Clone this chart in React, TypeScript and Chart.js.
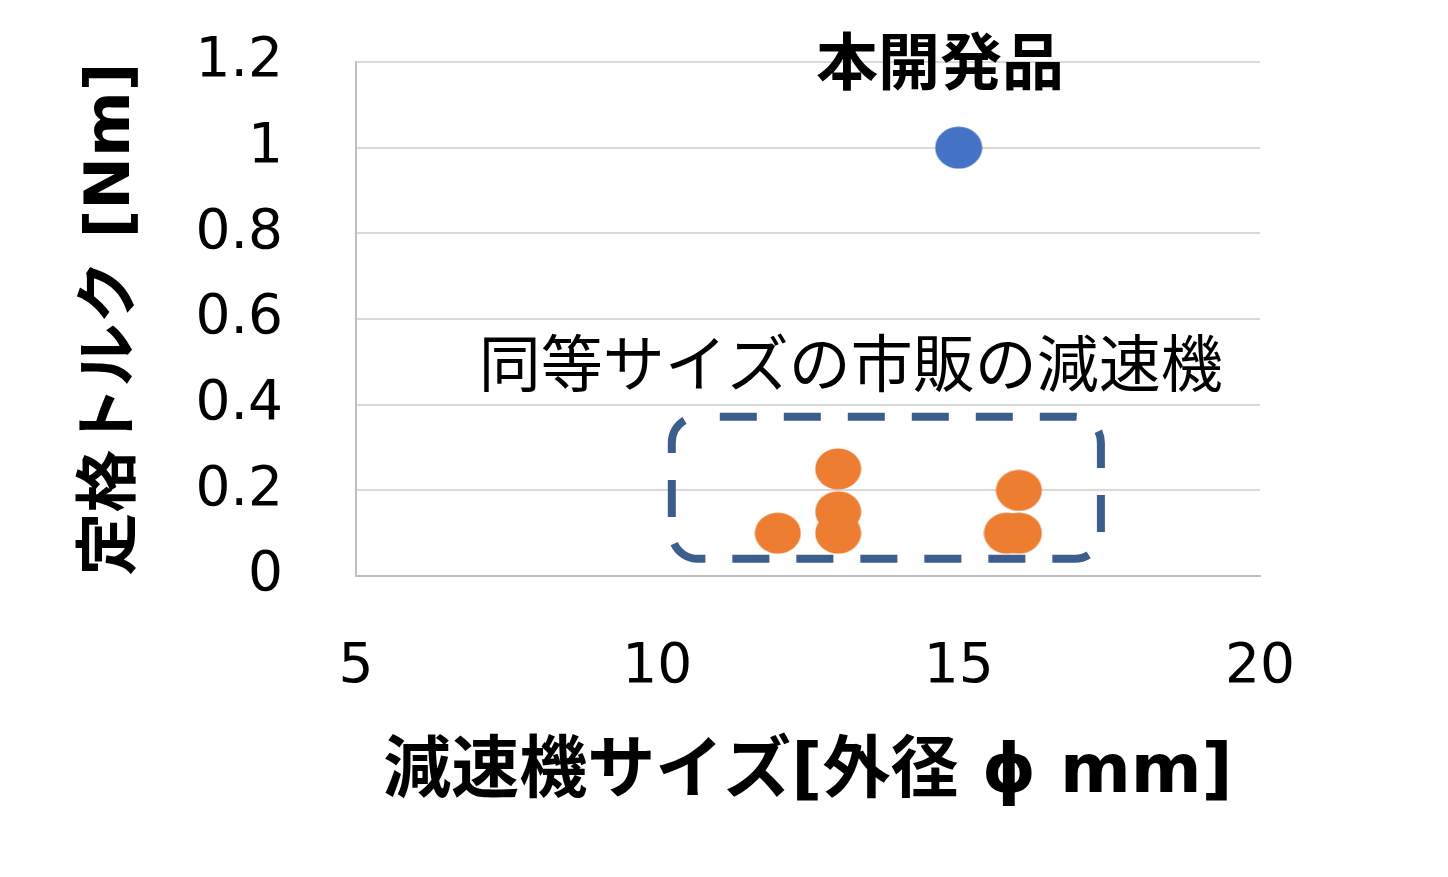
import { useEffect, useRef } from "react";
import { Chart, registerables } from "chart.js";

Chart.register(...registerables);

// Reducer outer diameter [mm] vs. rated torque [Nm]
const developedSize = [15];
const developedTorque = [1.0];
const marketSize = [12, 13, 13, 13, 16, 15.8, 16];
const marketTorque = [0.1, 0.25, 0.15, 0.1, 0.2, 0.1, 0.1];

const xRange = [5, 20];
const xStep = 5;
const yRange = [0, 1.2];
const yStep = 0.2;

const xTitle = "減速機サイズ[外径 ϕ mm]";
const yTitle = "定格トルク [Nm]";
const developedLabel = "本開発品";
const marketLabel = "同等サイズの市販の減速機";

// Callout placement, in axis units
const developedLabelAt = { x: 14.69, y: 1.185 };
const marketLabelAt = { x: 13.21, y: 0.479 };
const marketGroupBox = { x0: 10.24, x1: 17.36, y0: 0.04, y1: 0.372 };

const BLUE = "#4472C4";
const ORANGE = "#ED7D31";
const BOX = "#3B5E8C";
const FONT = "'DejaVu Sans', 'Noto Sans CJK JP', sans-serif";

function ellipseMarker(color: string, w: number, h: number) {
  const c = document.createElement("canvas");
  c.width = w;
  c.height = h;
  const ctx = c.getContext("2d")!;
  ctx.fillStyle = color;
  ctx.beginPath();
  ctx.ellipse(w / 2, h / 2, w / 2 - 0.5, h / 2 - 0.5, 0, 0, Math.PI * 2);
  ctx.fill();
  return c;
}

const calloutPlugin = {
  id: "callouts",
  beforeDatasetsDraw(chart: any) {
    const { ctx, scales } = chart;
    const x = scales.x;
    const y = scales.y;
    const l = x.getPixelForValue(marketGroupBox.x0);
    const r = x.getPixelForValue(marketGroupBox.x1);
    const t = y.getPixelForValue(marketGroupBox.y1);
    const b = y.getPixelForValue(marketGroupBox.y0);
    ctx.save();
    ctx.strokeStyle = BOX;
    ctx.lineWidth = 8;
    ctx.setLineDash([37, 27]);
    ctx.lineDashOffset = -22;
    ctx.beginPath();
    ctx.roundRect(l, t, r - l, b - t, 26);
    ctx.stroke();
    ctx.restore();
  },
  afterDraw(chart: any) {
    const { ctx, scales } = chart;
    const x = scales.x;
    const y = scales.y;
    ctx.save();
    ctx.fillStyle = "#000";
    ctx.textAlign = "center";
    ctx.textBaseline = "middle";
    ctx.font = `bold 62px ${FONT}`;
    ctx.fillText(
      developedLabel,
      x.getPixelForValue(developedLabelAt.x),
      y.getPixelForValue(developedLabelAt.y)
    );
    ctx.font = `62px ${FONT}`;
    ctx.fillText(
      marketLabel,
      x.getPixelForValue(marketLabelAt.x),
      y.getPixelForValue(marketLabelAt.y)
    );
    ctx.restore();
  },
};

export default function App() {
  const canvasRef = useRef<HTMLCanvasElement | null>(null);

  useEffect(() => {
    const canvas = canvasRef.current;
    if (!canvas) return;
    const chart = new Chart(canvas, {
      type: "scatter",
      data: {
        datasets: [
          {
            label: developedLabel,
            data: developedSize.map((v, i) => ({ x: v, y: developedTorque[i] })),
            pointStyle: ellipseMarker(BLUE, 48, 43) as any,
            pointRadius: 22,
            backgroundColor: BLUE,
          },
          {
            label: marketLabel,
            data: marketSize.map((v, i) => ({ x: v, y: marketTorque[i] })),
            pointStyle: ellipseMarker(ORANGE, 47, 42) as any,
            pointRadius: 22,
            backgroundColor: ORANGE,
          },
        ],
      },
      options: {
        responsive: false,
        animation: false,
        events: [],
        layout: { padding: { top: 62, right: 188, left: 0, bottom: 0 } },
        plugins: {
          legend: { display: false },
          tooltip: { enabled: false },
        },
        scales: {
          x: {
            type: "linear",
            min: xRange[0],
            max: xRange[1],
            afterFit: (s: any) => {
              s.height = 301;
              s.paddingLeft = 0;
              s.paddingRight = 0;
            },
            ticks: {
              stepSize: xStep,
              padding: 59,
              color: "#000",
              font: { family: FONT, size: 55 },
            },
            grid: { drawOnChartArea: false, drawTicks: false },
            border: { display: true, color: "#BFBFBF", width: 2 },
            title: {
              display: true,
              text: xTitle,
              color: "#000",
              font: { family: FONT, size: 68, weight: "bold" },
              padding: { top: 0, bottom: 62 },
            },
          },
          y: {
            type: "linear",
            min: yRange[0],
            max: yRange[1],
            afterFit: (s: any) => {
              s.width = 356;
              s.paddingTop = 0;
              s.paddingBottom = 0;
            },
            ticks: {
              stepSize: yStep,
              padding: 73,
              color: "#000",
              font: { family: FONT, size: 55 },
              callback: (v: any) => String(Number(Number(v).toFixed(1))),
            },
            grid: { color: "#D9D9D9", lineWidth: 2, drawTicks: false },
            border: { display: true, color: "#BFBFBF", width: 2 },
            title: {
              display: true,
              text: yTitle,
              color: "#000",
              font: { family: FONT, size: 63, weight: "bold" },
              padding: { top: 75, bottom: 0 },
            },
          },
        },
      },
      plugins: [calloutPlugin],
    });
    return () => chart.destroy();
  }, []);

  return (
    <div style={{ position: "fixed", left: 0, top: 0, width: 1448, height: 877, background: "#fff" }}>
      <canvas ref={canvasRef} width={1448} height={877} style={{ display: "block", width: 1448, height: 877 }} />
    </div>
  );
}
